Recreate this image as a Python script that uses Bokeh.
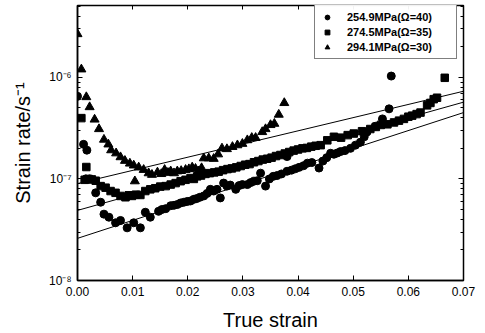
from bokeh.plotting import figure
from bokeh.models import (Range1d, FixedTicker, CustomJSTickFormatter, LinearAxis, LogAxis,
                          Legend, LegendItem)
from bokeh.embed import file_html
from bokeh.resources import INLINE

# ---------------- data ----------------
tri_x = [0.0000, 0.0007, 0.0016, 0.0022, 0.0031, 0.0039, 0.0048, 0.0056, 0.0061, 0.0070,
         0.0078, 0.0086, 0.0095, 0.0102, 0.0104, 0.0111, 0.0120, 0.0129, 0.0135, 0.0145,
         0.0152, 0.0158, 0.0164, 0.0169, 0.0175, 0.0181, 0.0188, 0.0196, 0.0202, 0.0208,
         0.0214, 0.0219, 0.0225, 0.0229, 0.0238, 0.0247, 0.0255, 0.0262, 0.0271, 0.0281,
         0.0290, 0.0299, 0.0308, 0.0316, 0.0323, 0.0335, 0.0341, 0.0350, 0.0357, 0.0365,
         0.0375]
tri_y = [2.67e-6, 1.2e-6, 6.4e-7, 5.1e-7, 3.85e-7, 3.1e-7, 2.44e-7, 2.19e-7, 1.92e-7, 1.79e-7,
         1.64e-7, 1.51e-7, 1.42e-7, 1.36e-7, 9.5e-8, 1.30e-7, 1.23e-7, 1.14e-7, 1.10e-7, 1.16e-7,
         1.12e-7, 1.23e-7, 1.15e-7, 1.19e-7, 1.14e-7, 1.19e-7, 1.20e-7, 1.23e-7, 1.25e-7, 1.30e-7,
         1.26e-7, 1.19e-7, 1.28e-7, 1.6e-7, 1.6e-7, 1.58e-7, 1.75e-7, 2.0e-7, 1.97e-7, 2.07e-7,
         2.15e-7, 2.22e-7, 2.41e-7, 2.54e-7, 2.54e-7, 2.9e-7, 3.1e-7, 3.4e-7, 3.5e-7, 4.3e-7,
         5.6e-7]

sq_x = [0.0007, 0.0016, 0.0013, 0.0020, 0.0026, 0.0033, 0.0042, 0.0051, 0.0060, 0.0069,
        0.0078, 0.0087, 0.0093, 0.0099, 0.0106, 0.0114, 0.0123, 0.0132, 0.0141, 0.0150,
        0.0160, 0.0169, 0.0178, 0.0187, 0.0196, 0.0205, 0.0211, 0.0217, 0.0224, 0.0232,
        0.0240, 0.0248, 0.0256, 0.0264, 0.0272, 0.0280, 0.0288, 0.0296, 0.0304, 0.0312,
        0.0320, 0.0328, 0.0336, 0.0344, 0.0352, 0.0360, 0.0368, 0.0376, 0.0384, 0.0392,
        0.0400, 0.0408, 0.0416, 0.0424, 0.0432, 0.0441, 0.0453, 0.0465, 0.0478, 0.0490,
        0.0501, 0.0516, 0.0531, 0.0541, 0.0550, 0.0562, 0.0574, 0.0583, 0.0592, 0.0600,
        0.0607, 0.0615, 0.0622, 0.0634, 0.0640, 0.0646, 0.0652, 0.0666]
sq_y = [3.97e-7, 1.31e-7, 9.8e-8, 1.0e-7, 9.9e-8, 9.6e-8, 8.5e-8, 8.2e-8, 7.6e-8, 7.3e-8,
        6.8e-8, 6.6e-8, 6.9e-8, 6.8e-8, 7.0e-8, 6.95e-8, 7.6e-8, 7.9e-8, 8.1e-8, 8.4e-8,
        8.5e-8, 8.8e-8, 9.1e-8, 9.5e-8, 9.8e-8, 1.02e-7, 1.0e-7, 1.06e-7, 1.08e-7, 1.12e-7,
        1.14e-7, 1.16e-7, 1.18e-7, 1.22e-7, 1.25e-7, 1.27e-7, 1.30e-7, 1.34e-7, 1.38e-7, 1.40e-7,
        1.46e-7, 1.50e-7, 1.55e-7, 1.58e-7, 1.62e-7, 1.68e-7, 1.72e-7, 1.78e-7, 1.84e-7, 1.90e-7,
        1.95e-7, 2.0e-7, 2.02e-7, 2.08e-7, 2.12e-7, 2.15e-7, 2.4e-7, 2.6e-7, 2.55e-7, 2.7e-7,
        2.8e-7, 2.95e-7, 3.1e-7, 3.25e-7, 3.4e-7, 3.45e-7, 3.6e-7, 3.75e-7, 3.9e-7, 4.1e-7,
        4.2e-7, 4.35e-7, 4.5e-7, 5.3e-7, 5.6e-7, 6.1e-7, 6.3e-7, 9.9e-7]

cir_x = [0.0000, 0.0011, 0.0017, 0.0015, 0.0022, 0.0033, 0.0042, 0.0048, 0.0057, 0.0069,
         0.0078, 0.0090, 0.0102, 0.0114, 0.0123, 0.0132, 0.0147, 0.0153, 0.0160, 0.0169,
         0.0175, 0.0181, 0.0187, 0.0193, 0.0199, 0.0205, 0.0211, 0.0216, 0.0222, 0.0229,
         0.0235, 0.0241, 0.0247, 0.0253, 0.0259, 0.0265, 0.0271, 0.0277, 0.0287, 0.0293,
         0.0299, 0.0308, 0.0314, 0.0320, 0.0326, 0.0332, 0.0341, 0.0348, 0.0355, 0.0362,
         0.0370, 0.0380, 0.0380, 0.0388, 0.0395, 0.0402, 0.0410, 0.0417, 0.0425, 0.0438,
         0.0445, 0.0452, 0.0459, 0.0465, 0.0471, 0.0477, 0.0485, 0.0495, 0.0504, 0.0513,
         0.0520, 0.0525, 0.0540, 0.0553, 0.0565, 0.0569]
cir_y = [6.5e-7, 2.19e-7, 1.92e-7, 1.0e-7, 1.0e-7, 7.3e-8, 5.9e-8, 4.5e-8, 4.2e-8, 3.7e-8,
         3.9e-8, 3.3e-8, 3.7e-8, 3.3e-8, 4.7e-8, 4.2e-8, 4.8e-8, 5.0e-8, 5.1e-8, 5.45e-8,
         5.5e-8, 5.6e-8, 5.8e-8, 5.9e-8, 6.0e-8, 6.07e-8, 6.3e-8, 6.4e-8, 6.6e-8, 6.8e-8,
         7.2e-8, 7.9e-8, 7.6e-8, 7.9e-8, 6.5e-8, 9.1e-8, 8.5e-8, 8.7e-8, 7.9e-8, 8.6e-8,
         8.8e-8, 8.8e-8, 9.2e-8, 9.5e-8, 9.6e-8, 1.14e-7, 8.5e-8, 1.0e-7, 1.06e-7, 1.08e-7,
         1.12e-7, 1.19e-7, 1.66e-7, 1.22e-7, 1.26e-7, 1.30e-7, 1.35e-7, 1.43e-7, 1.45e-7, 1.28e-7,
         1.5e-7, 1.62e-7, 1.79e-7, 1.75e-7, 1.8e-7, 1.86e-7, 1.9e-7, 2.0e-7, 2.15e-7, 2.3e-7,
         2.6e-7, 2.9e-7, 3.3e-7, 3.9e-7, 4.9e-7, 1.03e-6]

fit_x = [0.0, 0.07]
fit1_y = [9.0e-8, 7.3e-7]
fit2_y = [4.9e-8, 5.7e-7]
fit3_y = [2.6e-8, 4.5e-7]

labels = ["254.9MPa(\u03a9=40)", "274.5MPa(\u03a9=35)", "294.1MPa(\u03a9=30)"]
x_ticks = [0.0, 0.01, 0.02, 0.03, 0.04, 0.05, 0.06, 0.07]
y_ticks = [1e-8, 1e-7, 1e-6]
y_minor = [m * d for d in (1e-8, 1e-7, 1e-6) for m in range(2, 10) if m * d < 5.1e-6]

FONT = "Liberation Sans"

p = figure(width=485, height=333, x_range=Range1d(0, 0.07), y_range=Range1d(1e-8, 5.1e-6),
           y_axis_type="log", output_backend="svg", toolbar_location=None,
           min_border_left=77, min_border_right=22, min_border_top=5, min_border_bottom=49)
p.background_fill_color = "white"
p.border_fill_color = "white"
p.grid.visible = False
p.outline_line_color = "black"
p.outline_line_width = 1.5

# fit lines
for fy in (fit1_y, fit2_y, fit3_y):
    p.line(fit_x, fy, line_color="black", line_width=1)

r_c = p.scatter(cir_x, cir_y, marker="circle", size=8, fill_color="black", line_color="black")
r_s = p.scatter(sq_x, sq_y, marker="square", size=7.5, fill_color="black", line_color="black")
r_t = p.scatter(tri_x, tri_y, marker="triangle", size=9, fill_color="black", line_color="black")

fmt_y = CustomJSTickFormatter(code="""
const e = Math.round(Math.log10(tick));
const sup = {"-":"\u207b","0":"\u2070","1":"\u00b9","2":"\u00b2","3":"\u00b3","4":"\u2074",
             "5":"\u2075","6":"\u2076","7":"\u2077","8":"\u2078","9":"\u2079"};
return "10" + String(e).split("").map(c => sup[c]).join("");
""")

xa = p.xaxis[0]
xa.ticker = FixedTicker(ticks=x_ticks)
xa.formatter = CustomJSTickFormatter(code="return tick.toFixed(2);")
ya = p.yaxis[0]
ya.ticker = FixedTicker(ticks=y_ticks, minor_ticks=y_minor)
ya.formatter = fmt_y

for ax in (xa, ya):
    ax.major_tick_in = 5
    ax.major_tick_out = 0
    ax.minor_tick_in = 3
    ax.minor_tick_out = 0
    ax.axis_line_color = "black"
    ax.axis_line_width = 1.5
    ax.major_label_text_font = FONT
    ax.major_label_text_font_size = "12px"
    ax.major_label_text_color = "black"
    ax.axis_label_text_font = FONT
    ax.axis_label_text_font_size = "20px"
    ax.axis_label_text_font_style = "normal"
    ax.axis_label_text_color = "black"

xa.axis_label = "True strain"
xa.major_label_standoff = 6
xa.axis_label_standoff = 10
ya.axis_label = "Strain rate/s\u207b\u00b9"
ya.major_label_standoff = 6
ya.axis_label_standoff = 12

# mirrored axes (ticks only, no labels)
blank = CustomJSTickFormatter(code="return '';")
top = LinearAxis(ticker=FixedTicker(ticks=x_ticks), formatter=blank,
                 major_tick_in=4, major_tick_out=0, minor_tick_in=0, minor_tick_out=0,
                 axis_line_color="black", major_label_standoff=0)
right = LogAxis(ticker=FixedTicker(ticks=y_ticks, minor_ticks=y_minor), formatter=blank,
                major_tick_in=5, major_tick_out=0, minor_tick_in=3, minor_tick_out=0,
                axis_line_color="black", major_label_standoff=0)
p.add_layout(top, "above")
p.add_layout(right, "right")

legend = Legend(items=[LegendItem(label=labels[0], renderers=[r_c]),
                       LegendItem(label=labels[1], renderers=[r_s]),
                       LegendItem(label=labels[2], renderers=[r_t])],
                location=(237, 221))
legend.border_line_color = "black"
legend.border_line_width = 1
legend.background_fill_color = "white"
legend.padding = 5
legend.spacing = 2
legend.margin = 0
legend.glyph_width = 14
legend.glyph_height = 12
legend.label_height = 13
legend.label_width = 104
legend.label_standoff = 13
legend.label_text_font = FONT
legend.label_text_font_size = "11px"
legend.label_text_font_style = "bold"
legend.label_text_color = "black"
p.add_layout(legend, "center")

open("out.html", "w").write(file_html(p, INLINE))
